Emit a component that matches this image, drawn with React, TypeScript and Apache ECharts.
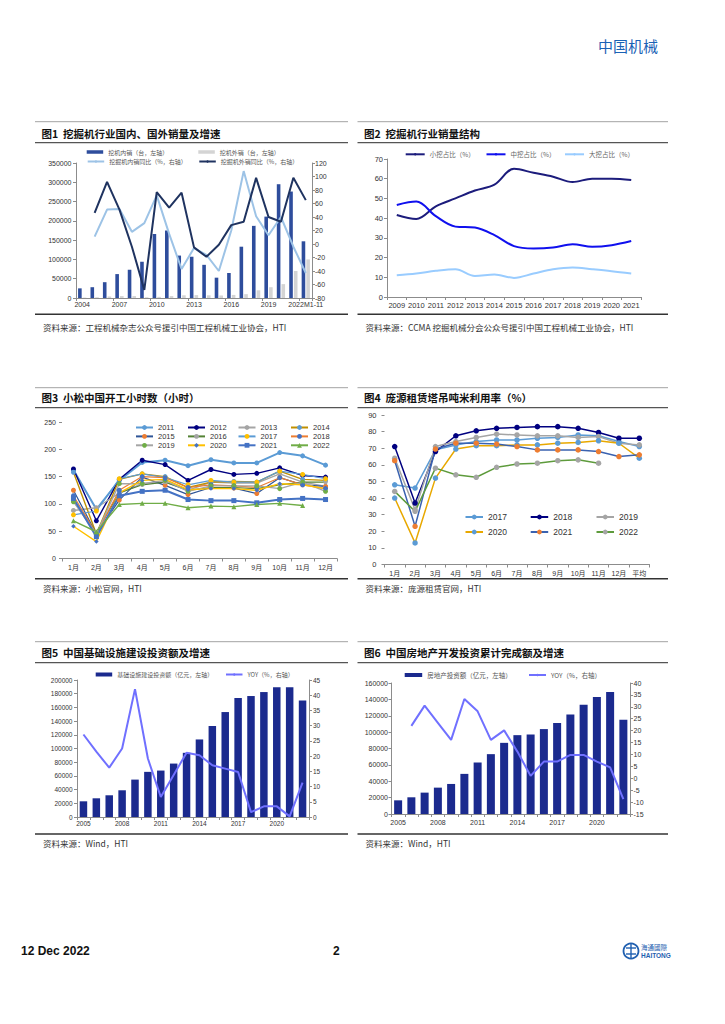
import React, { useEffect, useRef } from "react";
import * as echarts from "echarts";

const FONT = "'Liberation Sans', 'Noto Sans CJK SC', sans-serif";
const CJK = "'Noto Sans CJK SC', sans-serif";

// ---------- Chart 1 ----------
const c1Years = ["2004","2005","2006","2007","2008","2009","2010","2011","2012","2013","2014","2015","2016","2017","2018","2019","2020","2021","2022M1-11"];
const c1Domestic = [25000, 28000, 41000, 62000, 73000, 94000, 166000, 175000, 110000, 107000, 86000, 52700, 64800, 133000, 187000, 211000, 295000, 276000, 147000];
const c1Export = [1000, 2000, 4000, 5000, 5000, 2000, 3000, 5000, 7000, 7500, 7000, 6500, 8000, 10000, 20000, 28000, 36000, 70000, 100000];
const c1DomYoy = [null, 11, 51, 52, 18, 31, 72, 15, -37, -6, -16, -40, 20, 108, 41, 13, 40, -4, -43];
const c1ExpYoy = [null, 46, 92, 51, -4, -68, 77, 54, 76, -5, -19, -1, 28, 33, 98, 40, 33, 98, 65];

// ---------- Chart 2 ----------
const c2Years = ["2009","2010","2011","2012","2013","2014","2015","2016","2017","2018","2019","2020","2021"];
const c2Small = [41.6, 39.6, 46, 50, 54, 57, 65, 63, 61, 58.3, 60, 60, 59.3];
const c2Mid = [46.7, 48.4, 41, 35.7, 35.2, 31.4, 25.8, 24.6, 25.1, 26.8, 25.5, 26.3, 28.4];
const c2Large = [11, 11.9, 13.3, 14.1, 10.7, 11.4, 9.7, 11.9, 14.1, 15, 14.1, 13.1, 11.9];

// ---------- Chart 3 ----------
const c3Months = ["1月","2月","3月","4月","5月","6月","7月","8月","9月","10月","11月","12月"];
const h2011 = [162, 90, 143, 176, 180, 170, 181, 175, 175, 194, 188, 171];
const h2012 = [164, 69, 145, 180, 172, 143, 163, 154, 156, 166, 152, 149];
const h2013 = [88, 93, 120, 137, 140, 125, 140, 138, 138, 155, 140, 132];
const h2014 = [158, 45, 145, 155, 150, 130, 140, 141, 140, 160, 145, 143];
const h2015 = [125, 45, 107, 149, 134, 117, 130, 129, 119, 148, 135, 132];
const h2016 = [105, 48, 120, 135, 140, 125, 130, 130, 128, 135, 140, 140];
const h2017 = [80, 87, 146, 155, 148, 135, 143, 140, 140, 160, 154, 146];
const h2018 = [115, 45, 125, 150, 148, 130, 135, 133, 130, 148, 135, 128];
const h2019 = [104, 45, 137, 137, 143, 123, 133, 133, 133, 128, 140, 123];
const h2020 = [59, 31, 120, 143, 145, 126, 128, 128, 125, 137, 135, 128];
const h2021 = [110, 40, 115, 123, 125, 108, 106, 106, 102, 108, 110, 108];
const h2022 = [69, 49, 99, 101, 101, 93, 96, 95, 99, 101, 97, null];

// ---------- Chart 4 ----------
const c4Months = ["1月","2月","3月","4月","5月","6月","7月","8月","9月","10月","11月","12月","平均"];
const u2017 = [48, 46, 69, 72, 74, 75, 75, 76, 76.5, 78, 77.5, 74, 71];
const u2018 = [71, 37, 68, 77.5, 80.5, 82, 82.5, 83, 83, 82, 79.5, 76, 76];
const u2019 = [64, 33, 71, 74, 76.5, 78.5, 78, 77.5, 77.5, 76.5, 77, 73, 72];
const u2020 = [40, 13, 52, 69.5, 71.5, 71.5, 72, 72, 73, 73.5, 74.5, 73, 64];
const u2021 = [62.5, 23, 69.5, 73, 73, 72.5, 71, 69, 69, 69, 68, 65, 66];
const u2022 = [44, 32, 58, 54, 52.5, 58.5, 60.5, 61, 62.5, 63, 61, null, null];

// ---------- Chart 5 ----------
const c5Years = ["2005","2006","2007","2008","2009","2010","2011","2012","2013","2014","2015","2016","2017","2018","2019","2020","2021","2022"];
const c5Invest = [22900, 27300, 31700, 39000, 54600, 65900, 67800, 78000, 93700, 113200, 132700, 153200, 173700, 176600, 182400, 189300, 189500, 170200];
const c5Yoy = [27.1, 21.5, 16.2, 22.5, 42, 19.2, 6.6, 13.8, 21.1, 20.3, 17, 15.9, 14.8, 1.6, 3.5, 3.5, 0.2, 11.3];

// ---------- Chart 6 ----------
const c6Years = ["2005","2006","2007","2008","2009","2010","2011","2012","2013","2014","2015","2016","2017","2018","2019","2020","2021","2022"];
const c6Invest = [16700, 20400, 26100, 32200, 36700, 49000, 62900, 73100, 86900, 96300, 97100, 103700, 111000, 121600, 133500, 142900, 149000, 115100];
const c6Yoy = [null, 22, 30.5, 23.3, 16.1, 33.3, 28.1, 16.1, 20.1, 11.2, 1, 7, 7, 9.8, 9.8, 7, 4.6, -8.8];

const AX = "#8c8c8c";
const LBL = "#333";

function leg(name: string, left: number, cy: number, o: any = {}) {
  const fs = o.fs ?? 8;
  const l: any = {
    data: [name],
    left,
    top: cy - (fs + 2) / 2,
    padding: 0,
    selectedMode: false,
    itemWidth: o.w ?? 17,
    itemHeight: o.h ?? 6,
    textStyle: { fontSize: fs, color: o.color ?? "#333", fontFamily: o.ff ?? FONT, lineHeight: fs + 2 },
  };
  if (o.icon) l.icon = o.icon;
  if (o.fmt) l.formatter = o.fmt;
  return l;
}

function catAxis(grid: number, data: string[], o: any = {}) {
  return {
    type: "category",
    gridIndex: grid,
    data,
    boundaryGap: true,
    axisLine: { show: true, lineStyle: { color: AX, width: 1 } },
    axisTick: { show: true, length: 3, lineStyle: { color: AX }, interval: o.tickInterval ?? 0 },
    axisLabel: { interval: o.interval ?? 0, fontSize: o.fs ?? 7, color: LBL, margin: o.margin ?? 4, fontFamily: FONT },
    splitLine: { show: false },
  };
}

function valAxis(grid: number, min: number, max: number, interval: number, o: any = {}) {
  return {
    type: "value",
    gridIndex: grid,
    min,
    max,
    interval,
    position: o.position ?? "left",
    axisLine: { show: o.line ?? true, lineStyle: { color: AX, width: 1 } },
    axisTick: { show: true, length: 3, lineStyle: { color: AX } },
    axisLabel: { fontSize: o.fs ?? 7, color: LBL, margin: o.margin ?? 4, fontFamily: FONT, formatter: (v: number) => String(v) },
    splitLine: { show: false },
  };
}

function l3(name: string, data: any[], line: string, marker: string, symbol: string, size: number, width = 1.2) {
  return {
    type: "line", name, data, xAxisIndex: 2, yAxisIndex: 3,
    symbol, symbolSize: size, showSymbol: true,
    lineStyle: { color: line, width },
    itemStyle: { color: marker, borderWidth: 0 },
  };
}

function l4(name: string, data: any[], line: string, marker: string) {
  return {
    type: "line", name, data, xAxisIndex: 3, yAxisIndex: 4,
    symbol: "circle", symbolSize: 5.5, showSymbol: true,
    lineStyle: { color: line, width: 1.5 },
    itemStyle: { color: marker, borderWidth: 0 },
  };
}

function hline(x1: number, x2: number, y: number, stroke: string, w: number) {
  return { type: "line", shape: { x1, y1: y, x2, y2: y }, style: { stroke, lineWidth: w }, silent: true };
}

function txt(text: string, x: number, y: number, o: any = {}) {
  return {
    type: "text", x, y, silent: true,
    style: {
      text, fill: o.fill ?? "#000", fontSize: o.fs ?? 10, fontWeight: o.fw ?? "normal",
      fontFamily: o.ff ?? CJK, align: o.align ?? "left", verticalAlign: "middle",
    },
  };
}

function panel(x1: number, x2: number, top: number, titleY: number, under: number, bottom: number, srcY: number, title: string, src: string) {
  return [
    hline(x1, x2, top, "#8a8a8a", 0.8),
    txt(title, x1 + 6.5, titleY, { fs: 10.5, fw: "bold", fill: "#111" }),
    hline(x1, x2, under, "#555", 1.2),
    hline(x1, x2, bottom, "#333", 1.5),
    txt(src, x1 + 8, srcY, { fs: 8.5, fill: "#333" }),
  ];
}

export default function App() {
  const ref = useRef<HTMLDivElement>(null);
  useEffect(() => {
    const chart = echarts.init(ref.current!, null, { renderer: "svg" });
    const grids = [
      { left: 76, top: 163, width: 236, height: 135 },
      { left: 387, top: 159, width: 254, height: 138 },
      { left: 62, top: 422, width: 275, height: 136.5 },
      { left: 384.5, top: 415, width: 265, height: 149.5 },
      { left: 77, top: 680, width: 232, height: 137 },
      { left: 391.5, top: 683, width: 238.5, height: 131 },
    ].map((g) => ({ ...g, containLabel: false, outerBoundsMode: "none", show: false }));

    const option: any = {
      animation: false,
      textStyle: { fontFamily: FONT },
      grid: grids,
      xAxis: [
        catAxis(0, c1Years, { interval: 2, tickInterval: 2, margin: 3 }),
        catAxis(1, c2Years, { fs: 7.5, margin: 5 }),
        catAxis(2, c3Months, { fs: 7, margin: 5 }),
        catAxis(3, c4Months, { fs: 7, margin: 5 }),
        catAxis(4, c5Years, { interval: 2, margin: 3.5, fs: 6.5 }),
        catAxis(5, c6Years, { interval: 2, margin: 5, fs: 7 }),
      ],
      yAxis: [
        valAxis(0, 0, 350000, 50000, { margin: 4.5 }),
        valAxis(0, -80, 120, 20, { position: "right", margin: 3 }),
        valAxis(1, 0, 70, 10, { fs: 7.5, margin: 4 }),
        valAxis(2, 0, 250, 50, { line: false, margin: 6 }),
        valAxis(3, 0, 90, 10, { line: false, margin: 8, fs: 7.5 }),
        valAxis(4, 0, 200000, 20000, { margin: 4.5, fs: 6.5 }),
        valAxis(4, 0, 45, 5, { position: "right", margin: 4, fs: 6.5 }),
        valAxis(5, 0, 160000, 20000, { margin: 3.5 }),
        valAxis(5, -15, 40, 5, { position: "right", margin: 3.5 }),
      ],
      legend: [
        leg("挖机内销（台，左轴）", 86.7, 152, { fs: 6, icon: "rect", w: 16.5, h: 3.5, ff: CJK, color: "#555" }),
        leg("挖机外销（台，左轴）", 198.3, 152, { fs: 6, icon: "rect", w: 16.5, h: 3.5, ff: CJK, color: "#555" }),
        leg("挖掘机内销同比（%，右轴）", 86.7, 161.5, { fs: 6, w: 16.5, h: 3, ff: CJK, color: "#555" }),
        leg("挖掘机外销同比（%，右轴）", 198.3, 161.5, { fs: 6, w: 16.5, h: 3, ff: CJK, color: "#555" }),

        leg("小挖占比（%）", 404.7, 154.3, { fs: 6.5, w: 19, h: 3, ff: CJK, color: "#666" }),
        leg("中挖占比（%）", 485.5, 154.3, { fs: 6.5, w: 19, h: 3, ff: CJK, color: "#666" }),
        leg("大挖占比（%）", 564, 154.3, { fs: 6.5, w: 19, h: 3, ff: CJK, color: "#666" }),

        ...[
          ["2011", "2012", "2013", "2014"],
          ["2015", "2016", "2017", "2018"],
          ["2019", "2020", "2021", "2022"],
        ].flatMap((row, ri) =>
          row.map((n, ci) => leg(n, [135, 187, 237.5, 290][ci], [427.5, 436.4, 445.3][ri], { fs: 7.5, w: 17, h: 6 }))
        ),

        ...[
          ["u2017", "u2018", "u2019"],
          ["u2020", "u2021", "u2022"],
        ].flatMap((row, ri) =>
          row.map((n, ci) =>
            leg(n, [464.5, 529.7, 595.5][ci], [517, 532][ri], { fs: 8.5, w: 17.5, h: 6, fmt: (s: string) => s.slice(1) })
          )
        ),

        leg("基础设施建设投资额（亿元，左轴）", 95.7, 674.5, { fs: 6, icon: "rect", w: 16.5, h: 4, ff: CJK, color: "#555" }),
        leg("YOY5", 225, 674.5, { fs: 6, w: 16.5, h: 3, ff: CJK, color: "#555", fmt: () => "YOY（%，右轴）" }),
        leg("房地产投资额（亿元，左轴）", 404.7, 675, { fs: 6.5, icon: "rect", w: 17.5, h: 4, ff: CJK, color: "#555" }),
        leg("YOY6", 528, 675, { fs: 6.5, w: 17, h: 3, ff: CJK, color: "#555", fmt: () => "YOY（%，右轴）" }),
      ],
      series: [
        // Chart 1
        { type: "bar", name: "挖机内销（台，左轴）", data: c1Domestic, xAxisIndex: 0, yAxisIndex: 0, barWidth: 3.6, barGap: "30%", itemStyle: { color: "#2E4D9C" } },
        { type: "bar", name: "挖机外销（台，左轴）", data: c1Export, xAxisIndex: 0, yAxisIndex: 0, barWidth: 3.6, barGap: "30%", itemStyle: { color: "#D4D4D4" } },
        { type: "line", name: "挖掘机内销同比（%，右轴）", data: c1DomYoy, xAxisIndex: 0, yAxisIndex: 1, symbol: "none", lineStyle: { color: "#9DC3E6", width: 2 }, itemStyle: { color: "#9DC3E6" } },
        { type: "line", name: "挖掘机外销同比（%，右轴）", data: c1ExpYoy, xAxisIndex: 0, yAxisIndex: 1, symbol: "none", lineStyle: { color: "#1F3360", width: 2 }, itemStyle: { color: "#1F3360" } },

        // Chart 2
        { type: "line", name: "小挖占比（%）", data: c2Small, xAxisIndex: 1, yAxisIndex: 2, smooth: 0.35, symbol: "none", lineStyle: { color: "#1C1C7C", width: 2 }, itemStyle: { color: "#1C1C7C" } },
        { type: "line", name: "中挖占比（%）", data: c2Mid, xAxisIndex: 1, yAxisIndex: 2, smooth: 0.35, symbol: "none", lineStyle: { color: "#1010EE", width: 2 }, itemStyle: { color: "#1010EE" } },
        { type: "line", name: "大挖占比（%）", data: c2Large, xAxisIndex: 1, yAxisIndex: 2, smooth: 0.35, symbol: "none", lineStyle: { color: "#99CCFF", width: 2 }, itemStyle: { color: "#99CCFF" } },

        // Chart 3
        l3("2011", h2011, "#5B9BD5", "#5B9BD5", "circle", 5, 2),
        l3("2012", h2012, "#000080", "#000080", "circle", 5, 1.4),
        l3("2013", h2013, "#A5A5A5", "#A5A5A5", "circle", 5, 1.4),
        l3("2014", h2014, "#C09000", "#5B9BD5", "circle", 5, 1.4),
        l3("2015", h2015, "#2F5597", "#ED7D31", "circle", 5),
        l3("2016", h2016, "#548235", "#A5A5A5", "circle", 4.5),
        l3("2017", h2017, "#5B9BD5", "#FFC000", "circle", 5),
        l3("2018", h2018, "#ED7D31", "#4472C4", "circle", 5),
        l3("2019", h2019, "#A5A5A5", "#70AD47", "circle", 5, 1.4),
        l3("2020", h2020, "#FFC000", "#4472C4", "diamond", 4.5, 1.4),
        l3("2021", h2021, "#4472C4", "#4472C4", "rect", 5, 2),
        l3("2022", h2022, "#70AD47", "#70AD47", "triangle", 5, 1.4),

        // Chart 4
        l4("u2017", u2017, "#5B9BD5", "#5B9BD5"),
        l4("u2018", u2018, "#000080", "#000080"),
        l4("u2019", u2019, "#A5A5A5", "#A5A5A5"),
        l4("u2020", u2020, "#E8A800", "#5B9BD5"),
        l4("u2021", u2021, "#3A62B0", "#ED7D31"),
        l4("u2022", u2022, "#5E9B3C", "#A5A5A5"),

        // Chart 5
        { type: "bar", name: "基础设施建设投资额（亿元，左轴）", data: c5Invest, xAxisIndex: 4, yAxisIndex: 5, barWidth: 7.5, itemStyle: { color: "#1B2A8E" } },
        { type: "line", name: "YOY5", data: c5Yoy, xAxisIndex: 4, yAxisIndex: 6, symbol: "none", lineStyle: { color: "#7070FF", width: 2 }, itemStyle: { color: "#7070FF" } },

        // Chart 6
        { type: "bar", name: "房地产投资额（亿元，左轴）", data: c6Invest, xAxisIndex: 5, yAxisIndex: 7, barWidth: 8, itemStyle: { color: "#1B2A8E" } },
        { type: "line", name: "YOY6", data: c6Yoy, xAxisIndex: 5, yAxisIndex: 8, symbol: "none", lineStyle: { color: "#7070FF", width: 2 }, itemStyle: { color: "#7070FF" } },
      ],
      graphic: [
        txt("中国机械", 598, 45, { fs: 15, fill: "#1A62B5" }),

        ...panel(35, 348, 121.7, 133, 142.7, 314.3, 327, "图1  挖掘机行业国内、国外销量及增速", "资料来源：工程机械杂志公众号援引中国工程机械工业协会，HTI"),
        ...panel(357.5, 668, 121.7, 133, 142.7, 314.3, 327, "图2  挖掘机行业销量结构", "资料来源：CCMA 挖掘机械分会公众号援引中国工程机械工业协会，HTI"),
        ...panel(35, 348, 387.7, 397.7, 407.7, 578.7, 588.3, "图3  小松中国开工小时数（小时）", "资料来源：小松官网，HTI"),
        ...panel(357.5, 668, 387.7, 397.7, 407.7, 578.7, 588.3, "图4  庞源租赁塔吊吨米利用率（%）", "资料来源：庞源租赁官网，HTI"),
        ...panel(35, 348, 641.7, 652.7, 662.7, 834, 842.7, "图5  中国基础设施建设投资额及增速", "资料来源：Wind，HTI"),
        ...panel(357.5, 668, 641.7, 652.7, 662.7, 834, 842.7, "图6  中国房地产开发投资累计完成额及增速", "资料来源：Wind，HTI"),

        txt("12 Dec 2022", 21, 951, { fs: 12, fw: "bold", ff: "'Liberation Sans Narrow', 'Liberation Sans', sans-serif", fill: "#111" }),
        txt("2", 333, 951, { fs: 12, fw: "bold", ff: "'Liberation Sans', sans-serif", fill: "#111" }),
        { type: "circle", shape: { cx: 631, cy: 951, r: 7.5 }, style: { fill: "#fff", stroke: "#1F5FB0", lineWidth: 1.8 }, silent: true },
        { type: "line", shape: { x1: 626, y1: 948, x2: 636, y2: 948 }, style: { stroke: "#1F5FB0", lineWidth: 1.4 }, silent: true },
        { type: "line", shape: { x1: 626, y1: 954, x2: 636, y2: 954 }, style: { stroke: "#1F5FB0", lineWidth: 1.4 }, silent: true },
        { type: "line", shape: { x1: 631, y1: 944, x2: 631, y2: 958 }, style: { stroke: "#1F5FB0", lineWidth: 1.4 }, silent: true },
        txt("海通國際", 641, 946.5, { fs: 6.5, fill: "#1F5FB0" }),
        txt("HAITONG", 641, 955.5, { fs: 6.5, fw: "bold", ff: "'Liberation Sans', sans-serif", fill: "#1F5FB0" }),
      ],
    };
    chart.setOption(option);
    return () => chart.dispose();
  }, []);
  return <div ref={ref} style={{ position: "absolute", left: 0, top: 0, width: 725, height: 1024, background: "#fff" }} />;
}
